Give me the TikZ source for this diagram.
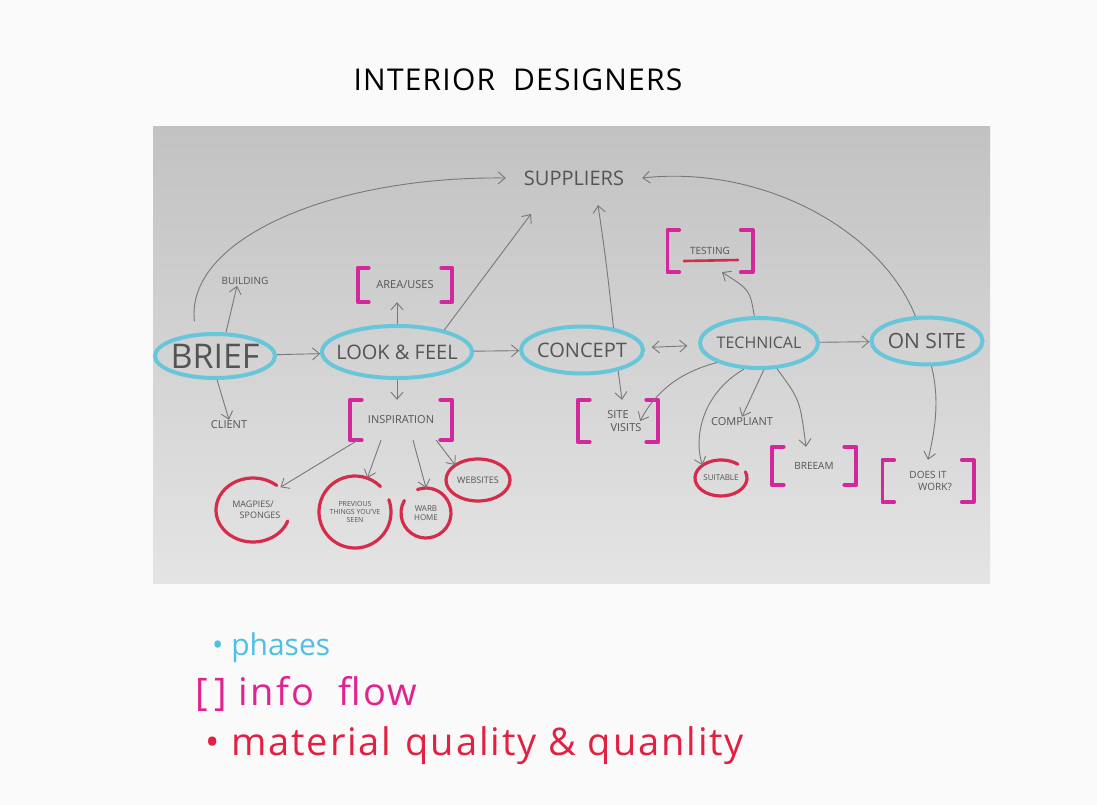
\documentclass[tikz,border=0pt]{standalone}
\usepackage{fontspec}
\setmainfont{Open Sans}
\usetikzlibrary{arrows.meta,shapes.geometric,calc}

\definecolor{paper}{RGB}{250,250,250}
\definecolor{photoTop}{RGB}{194,194,194}
\definecolor{photoBot}{RGB}{228,228,228}
\definecolor{pencil}{RGB}{84,84,84}
\definecolor{pencilLine}{RGB}{120,120,120}
\definecolor{phaseBlue}{RGB}{104,198,218}
\definecolor{infoMag}{RGB}{210,40,156}
\definecolor{matRed}{RGB}{212,44,74}
\definecolor{legBlue}{RGB}{78,192,228}
\definecolor{legMag}{RGB}{226,34,142}
\definecolor{legRed}{RGB}{226,32,66}

\newcommand{\setsz}[1]{\fontsize{#1}{#1}\selectfont}

% a pair of square brackets round an info-flow node
\newcommand{\infobrackets}[2]{%
  \draw[brk] ([xshift=#2]#1.north west) -- (#1.north west) -- (#1.south west) -- ([xshift=#2]#1.south west);
  \draw[brk] ([xshift=-#2]#1.north east) -- (#1.north east) -- (#1.south east) -- ([xshift=-#2]#1.south east);}

% a hand-drawn (partly open) ring round a material node
\newcommand{\ringarc}[5]{%
  \draw[ring] (#1.center) ++(#4:#2 and #3) arc[start angle=#4, end angle=#5, x radius=#2, y radius=#3];}

\tikzset{
  phase/.style={ellipse, draw=phaseBlue, line width=4pt, inner sep=0pt},
  phasetext/.style={text=pencil, inner sep=0pt},
  lbl/.style={text=pencil, inner sep=1pt, align=center},
  info/.style={text=pencil, align=center, inner sep=0pt},
  brk/.style={draw=infoMag, line width=3.6pt, line cap=round, line join=round},
  mat/.style={ellipse, inner sep=0pt, text=pencil, align=center},
  ring/.style={draw=matRed, line width=3.2pt, line cap=round},
  arr/.style={draw=pencilLine, line width=0.9pt, -{Straight Barb[length=7pt,width=12pt]}},
  arrboth/.style={draw=pencilLine, line width=0.9pt, {Straight Barb[length=7pt,width=12pt]}-{Straight Barb[length=7pt,width=12pt]}},
  legend/.style={anchor=west, inner sep=0pt},
}

\begin{document}
\begin{tikzpicture}[x=1pt, y=-1pt]
\useasboundingbox (0,0) rectangle (1097,805);
\fill[paper] (0,0) rectangle (1097,805);

% photographed sheet
\shade[top color=photoTop, bottom color=photoBot] (153,127) rectangle (990,583);

% heading
\node[lbl, text=black, font=\setsz{30}\addfontfeature{LetterSpace=4}] (title) at (518,80) {INTERIOR\hspace{18pt}DESIGNERS};

% suppliers
\node[lbl, font=\setsz{20}, inner xsep=18pt] (sup) at (574,178) {SUPPLIERS};
\coordinate (supA) at (531,214);
\coordinate (supB) at (598,205);

% phases
\node[phase, minimum width=120pt, minimum height=44pt,
      label={[phasetext, font=\setsz{34}]center:BRIEF}] (brief) at (215,356) {};
\node[phase, minimum width=150pt, minimum height=52pt,
      label={[phasetext, font=\setsz{20}]center:LOOK \& FEEL}] (look) at (397,352) {};
\node[phase, minimum width=122pt, minimum height=47pt,
      label={[phasetext, font=\setsz{20}]center:CONCEPT}] (concept) at (582,350) {};
\node[phase, minimum width=118pt, minimum height=50pt,
      label={[phasetext, font=\setsz{16}]center:TECHNICAL}] (tech) at (759,343) {};
\node[phase, minimum width=111pt, minimum height=47pt,
      label={[phasetext, font=\setsz{21}]center:ON SITE}] (onsite) at (927,341) {};

% plain labels
\node[lbl, font=\setsz{10}] (build) at (245,281) {BUILDING};
\node[lbl, font=\setsz{11}] (client) at (229,425) {CLIENT};
\node[lbl, font=\setsz{11}] (compl) at (742,422) {COMPLIANT};

% info flow
\node[info, minimum width=94pt, minimum height=34pt, font=\setsz{11}] (area) at (405,285) {AREA/USES};
\node[info, minimum width=102pt, minimum height=40pt, font=\setsz{11}] (insp) at (401,420) {INSPIRATION};
\node[info, minimum width=80pt, minimum height=42pt, font=\setsz{11}] (site) at (618,421) {SITE\\[2pt]\hspace{16pt}VISITS};
\node[info, minimum width=85pt, minimum height=42pt, font=\setsz{10}] (testing) at (710,251) {TESTING};
\node[info, minimum width=84pt, minimum height=38pt, font=\setsz{10}] (breeam) at (814,466) {BREEAM};
\node[info, minimum width=91pt, minimum height=42pt, font=\setsz{10}] (doesit) at (928,481) {DOES IT\\[2pt]\hspace{14pt}WORK?};
\infobrackets{area}{11pt}
\infobrackets{insp}{12pt}
\infobrackets{site}{12pt}
\infobrackets{testing}{12pt}
\infobrackets{breeam}{12pt}
\infobrackets{doesit}{12pt}
\draw[matRed, line width=2.6pt, line cap=round]
  ($(testing.center)+(-26,10)$) -- ($(testing.center)+(28,9)$);

% material quality
\node[mat, minimum width=74pt, minimum height=64pt, font=\setsz{9}] (mag) at (253,510) {MAGPIES/\\[2pt]\hspace{14pt}SPONGES};
\node[mat, minimum width=72pt, minimum height=72pt, font=\setsz{7}] (prev) at (355,512) {PREVIOUS\\[1pt]THINGS YOU'VE\\[1pt]SEEN};
\node[mat, minimum width=50pt, minimum height=50pt, font=\setsz{8}] (warb) at (426,513) {WARB\\[1pt]HOME};
\node[mat, minimum width=64pt, minimum height=42pt, font=\setsz{9}] (web) at (478,480) {WEBSITES};
\node[mat, minimum width=52pt, minimum height=36pt, font=\setsz{8}] (suit) at (721,478) {SUITABLE};
\ringarc{mag}{37}{32}{20}{310}
\ringarc{prev}{36}{36}{-20}{315}
\ringarc{warb}{25}{25}{250}{570}
\ringarc{web}{32}{21}{0}{360}
\ringarc{suit}{26}{18}{340}{670}

% connectors
\draw[arr] (brief) -- (look);
\draw[arr] (look) -- (concept);
\draw[arrboth, shorten <=7pt, shorten >=11pt] (concept) -- (tech);
\draw[arr] (tech) -- (onsite);

\draw[arr, shorten <=12pt] (brief.130) .. controls (185,240) and (330,176) .. (sup.west);
\draw[arr] (brief.65) -- ([xshift=-8pt]build.south);
\draw[arr] (brief.-85) -- (client.north);

\draw[arr] (look.north) -- (look.north |- area.south);
\draw[arr] (look.25) -- (supA);
\draw[arr] (look.south) -- (look.south |- insp.north);

\draw[arr] ([xshift=8pt]insp.south west) -- (mag.north east);
\draw[arr] ([xshift=-20pt]insp.south) -- (prev.70);
\draw[arr] ([xshift=12pt]insp.south) -- (warb.north);
\draw[arr] ([xshift=-16pt]insp.south east) -- (web.north west);

\draw[arr] (concept.35) .. controls (606,260) .. (supB);
\draw[arr] (concept.-30) -- ([xshift=4pt]site.north);

\draw[arr] (tech.205) .. controls (680,372) and (655,392) .. ([xshift=-18pt]site.east);
\draw[arr] (tech.100) .. controls (750,290) .. ([xshift=12pt]testing.south);
\draw[arr] (tech.-80) -- (compl.north);
\draw[arr] (tech.-120) .. controls (700,395) and (694,440) .. (suit.north west);
\draw[arr] (tech.-55) .. controls (800,400) .. ([xshift=-8pt]breeam.north);

\draw[arr] (onsite.115) .. controls (880,228) and (760,165) .. (sup.east);
\draw[arr] (onsite.-80) .. controls (940,400) and (935,430) .. (doesit.north);

% key
\node[legend, text=legBlue, font=\setsz{30}] (keyphase) at (212,648) {\textbullet\ phases};
\node[legend, text=legMag, font=\setsz{38}\addfontfeature{LetterSpace=6}] (keyinfo) at (195,694) {[\,] info\hspace{24pt}flow};
\node[legend, text=legRed, font=\setsz{38}\addfontfeature{LetterSpace=5}] (keymat) at (205,746) {\textbullet\ material\hspace{14pt}quality \& quanlity};
\end{tikzpicture}
\end{document}
